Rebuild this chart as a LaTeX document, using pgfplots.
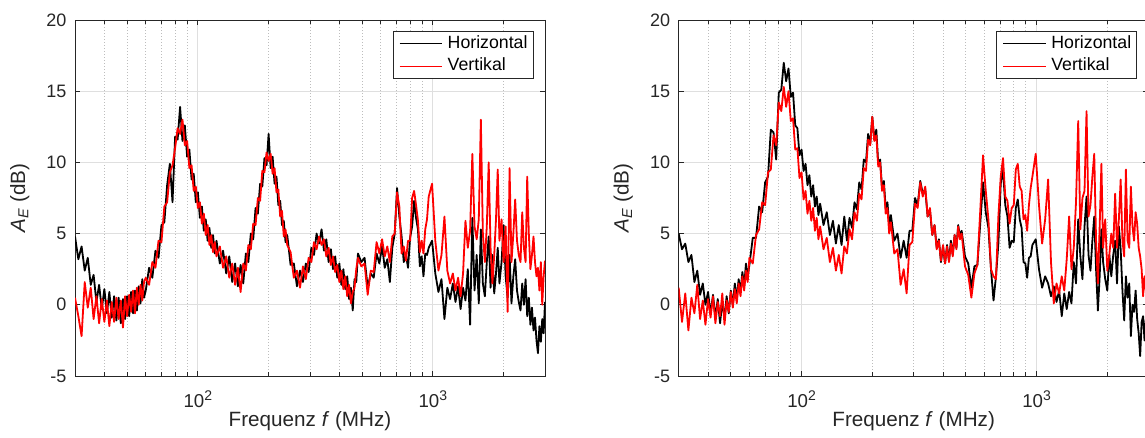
\documentclass[border=0pt]{standalone}
\usepackage{fontspec}
\setmainfont{Liberation Sans}
\usepackage{pgfplots}
\usepackage{pgfplotstable}
\pgfplotsset{compat=1.18}
\definecolor{axgray}{HTML}{262626}
\definecolor{gridmaj}{HTML}{DFDFDF}
\definecolor{gridmin}{HTML}{BDBDBD}

% f (MHz), left panel: h1 v1, right panel: h2 v2 (dB)
\pgfplotstableread{
f h1 v1 h2 v2
30 4.8 0.5 5.0 1.2
31 3.2 -0.8 3.9 -1.2
32 4.1 -2.2 4.3 0.8
33 2.4 1.6 3.0 -1.8
34 3.3 -0.2 3.5 0.5
35 1.4 1.2 1.6 -0.6
36 2.1 -1.0 2.4 1.4
37 0.2 0.6 0.7 -1.0
38 1.4 -1.3 1.5 0.3
39 -0.3 0.4 0.0 -1.4
40 1.1 -1.2 0.9 0.4
41 -0.6 0.3 -0.6 -0.9
42 0.9 -1.5 0.7 0.6
43 -0.9 0.2 -0.9 -1.3
44 0.6 -1.2 0.4 0.2
45 -1.1 0.5 -1.3 -0.8
46 0.5 -1.0 0.2 0.8
47 -1.3 0.3 -0.9 -1.4
48 0.4 -1.6 0.6 0.3
49 -1.0 0.6 -0.6 -0.5
50 0.6 -0.8 1.0 0.9
51 -0.8 0.7 0.0 -0.2
52 0.9 -0.5 1.5 1.1
53 -0.6 1.0 0.4 0.1
54 1.0 -0.6 1.8 1.5
55 -0.4 1.2 0.9 0.6
56 1.3 0.0 2.3 2.0
57 0.1 1.4 1.3 1.0
58 1.8 0.3 2.9 2.4
59 0.5 1.6 2.0 1.6
60 1.0 1.9 2.8 3.3
62 2.6 1.4 4.7 2.9
64 1.9 3.0 4.7 4.9
66 3.8 2.6 6.9 5.3
68 3.3 4.5 6.5 7.2
70 5.6 4.4 8.6 7.0
72 5.8 6.9 9.0 9.3
74 8.4 7.2 12.3 9.5
76 9.9 9.3 12.1 11.9
78 7.2 9.8 10.2 11.2
80 11.8 11.0 14.9 14.2
82 11.6 12.4 15.1 13.6
84 13.9 12.0 17.0 15.3
86 11.5 13.0 15.7 13.9
88 12.6 11.2 16.6 15.0
90 10.4 11.5 14.6 12.9
92 10.9 9.6 14.9 13.1
94 8.8 9.8 12.6 10.9
96 9.2 8.0 12.4 11.0
98 7.2 8.3 10.5 8.9
100 7.9 6.8 10.9 9.3
102 6.1 7.2 9.4 7.4
104 6.9 5.7 9.9 8.0
106 5.2 6.4 8.4 6.4
108 6.0 4.9 9.1 7.3
110 4.5 5.6 7.6 5.9
112 5.4 4.2 8.4 6.8
114 4.0 4.9 6.9 5.2
116 4.9 3.7 7.6 6.1
118 3.6 4.4 6.3 4.6
120 4.5 3.4 7.1 5.5
124 2.9 4.1 5.6 3.9
128 3.8 2.6 6.5 4.7
132 2.2 3.4 4.9 3.0
136 3.4 1.9 5.9 4.0
140 1.6 2.9 4.3 2.4
144 2.9 1.4 5.6 3.5
148 1.3 2.6 4.2 2.2
152 2.8 0.9 6.2 4.1
156 1.5 2.9 4.5 3.6
160 3.6 2.4 6.1 5.3
164 3.0 4.2 5.4 4.6
168 5.0 3.9 7.2 6.5
172 4.6 5.7 6.7 5.9
176 6.8 5.6 8.6 7.8
180 6.4 7.5 8.1 7.4
184 8.5 7.3 10.2 9.6
188 8.3 9.4 10.0 9.4
192 10.3 9.3 12.0 11.6
196 9.8 10.7 11.3 11.2
200 12.0 10.1 13.2 13.2
204 9.6 10.6 11.6 11.5
208 10.4 9.2 12.3 11.9
212 8.5 9.6 9.9 9.7
216 9.0 7.9 10.2 10.0
220 7.0 8.1 8.2 8.0
224 7.3 6.2 8.7 8.4
228 5.6 6.6 6.8 6.4
232 5.9 4.8 7.2 6.8
236 4.4 5.3 5.6 5.0
240 4.9 4.2 6.3 5.8
248 2.8 3.7 4.5 3.6
256 2.9 1.9 5.0 3.9
264 1.3 2.4 3.3 1.4
272 2.4 1.2 4.5 2.5
280 1.6 2.7 3.3 0.8
288 2.9 1.8 5.2 4.2
296 2.3 3.3 5.2 4.4
304 4.0 3.0 7.5 7.1
312 3.5 4.4 7.0 6.8
320 5.0 3.9 8.7 8.6
328 4.3 4.8 7.8 7.6
336 5.3 4.2 8.1 8.3
344 3.8 4.6 6.2 6.2
352 4.6 3.4 6.6 6.8
360 3.0 4.0 4.9 4.9
368 3.9 2.8 5.6 5.6
376 2.5 3.4 4.0 3.9
384 3.4 2.3 4.6 4.5
392 1.9 2.8 3.0 3.1
400 2.9 1.6 4.1 4.2
408 1.4 2.4 2.9 2.9
416 2.5 1.1 4.2 4.1
424 1.1 2.0 3.1 3.0
432 2.0 0.6 4.5 4.3
440 0.4 1.4 3.5 3.4
448 1.2 0.1 4.9 4.9
456 -0.4 0.9 4.0 3.9
464 1.8 1.2 5.6 5.5
472 1.6 2.5 4.8 4.6
480 3.6 3.3 5.2 5.0
496 3.0 2.7 3.4 2.7
512 3.3 2.9 2.9 2.1
528 1.2 0.7 1.2 0.5
544 2.2 2.4 2.7 2.2
560 1.9 2.3 2.8 2.8
576 3.6 4.4 5.7 6.6
592 2.9 3.6 8.6 10.5
608 4.1 4.6 6.5 8.0
624 2.6 3.4 5.4 6.0
640 3.2 4.1 2.5 2.5
656 1.6 3.0 0.3 2.0
672 4.0 4.8 2.0 1.8
688 5.0 5.0 4.3 6.2
704 8.2 7.9 8.5 9.0
720 6.2 6.9 9.5 10.3
736 4.8 3.6 7.0 7.6
752 3.0 4.1 6.2 7.3
768 3.5 3.1 4.0 5.7
784 2.6 4.5 4.5 6.8
800 4.7 4.5 4.4 7.0
816 5.5 7.5 6.8 9.5
832 7.3 8.0 7.4 9.9
848 6.1 7.0 6.0 8.3
864 5.3 5.9 5.4 8.0
880 2.7 3.7 3.0 6.0
896 3.4 4.5 2.9 6.3
912 2.0 3.6 1.9 5.2
928 3.6 5.3 3.3 7.0
944 3.5 6.0 3.4 8.2
960 4.0 7.6 4.2 9.0
992 4.5 8.5 4.6 10.6
1024 2.2 4.5 2.5 7.0
1056 0.9 2.4 1.2 4.3
1088 1.8 3.5 2.0 6.0
1120 -1.0 6.2 1.5 8.8
1152 1.2 2.4 0.6 3.0
1184 0.4 1.5 1.3 0.1
1216 1.5 2.2 0.2 1.5
1248 0.2 1.0 1.0 0.8
1280 1.3 1.9 -0.8 2.0
1312 -0.3 0.6 0.8 1.0
1344 1.2 2.2 -0.3 3.2
1376 0.3 5.9 0.9 6.2
1408 2.5 4.0 0.1 2.5
1440 -1.4 5.2 3.0 4.0
1472 6.1 10.6 1.5 7.2
1504 1.0 5.5 6.0 12.9
1536 3.5 4.6 3.4 5.3
1568 0.1 6.0 1.8 7.5
1600 5.3 13.0 5.5 8.0
1632 1.5 5.0 7.6 13.6
1664 0.6 3.0 3.5 6.2
1696 3.0 5.5 2.4 7.0
1728 4.8 10.0 4.5 9.0
1760 1.2 4.0 6.2 10.6
1792 3.5 1.5 2.5 4.5
1824 0.8 3.5 -0.4 1.5
1856 2.2 6.0 2.0 5.5
1888 4.0 9.5 5.3 9.9
1920 1.5 4.5 3.0 4.0
1960 3.0 6.0 1.8 6.0
2000 5.6 3.0 1.0 2.4
2040 2.0 5.5 3.5 3.5
2080 0.5 -0.5 2.0 5.0
2120 3.5 9.6 3.5 4.0
2160 0.1 3.0 4.5 7.8
2200 2.0 5.0 1.5 4.0
2240 3.2 7.4 5.5 6.0
2280 1.0 4.5 3.9 8.8
2320 0.2 3.5 1.0 4.5
2360 -0.4 3.0 -1.1 3.4
2400 1.5 6.5 2.0 9.5
2440 0.0 4.0 0.5 4.5
2480 1.8 3.0 1.5 4.0
2520 -0.8 9.0 -2.2 8.3
2560 0.5 5.0 0.0 5.5
2600 -1.4 2.5 -0.5 4.5
2640 -0.2 3.5 1.0 6.5
2680 -1.8 4.8 -1.0 5.7
2720 -0.9 3.0 -2.0 4.0
2760 -2.5 2.0 -3.6 3.4
2800 -3.4 2.6 -1.2 2.5
2840 -1.5 1.0 -0.8 0.6
2880 -2.6 3.0 -2.5 2.0
2920 -1.0 0.0 -1.0 1.0
2960 -2.0 2.0 -2.0 1.5
3000 0.2 3.1 -1.0 1.0
}\aedata

\pgfplotsset{
  legend image code/.code={\path (-3.75pt,0pt);
    \draw[#1, line width=0.7pt] (0pt,0pt) -- (32pt,0pt);},
}

\begin{document}
\begin{tikzpicture}
\pgfplotsset{
  every axis/.append style={
    scale only axis, width=352.5pt, height=267pt,
    xmin=30, xmax=3000, ymin=-5, ymax=20,
    xtick={100,1000},
    xticklabels={10\raisebox{5.5pt}{\fontsize{10.5}{12}\selectfont 2},
                 10\raisebox{5.5pt}{\fontsize{10.5}{12}\selectfont 3}},
    minor xtick={40,50,60,70,80,90,200,300,400,500,600,700,800,900,2000,3000},
    ytick={-5,0,5,10,15,20}, yticklabels={-5,0,5,10,15,20},
    xmajorgrids, xminorgrids, ymajorgrids,
    major grid style={gridmaj, line width=0.6pt},
    minor grid style={gridmin, line width=0.5pt, dash pattern=on 0.75pt off 1.5pt},
    axis line style={axgray, line width=0.7pt},
    tick style={axgray, line width=0.6pt},
    major tick length=4pt, minor tick length=3pt,
    tick align=inside,
    xticklabel style={text=axgray, font=\fontsize{14}{16}\selectfont,
      anchor=base, inner sep=0pt, yshift=-24pt},
    yticklabel style={text=axgray, font=\fontsize{13.5}{16}\selectfont,
      anchor=east, inner sep=0pt, xshift=-6.2pt},
    xlabel={Frequenz \textit{f} (MHz)},
    ylabel={\textit{A}\textsubscript{\textit{E}} (dB)},
    label style={text=axgray, font=\fontsize{15.5}{18}\selectfont},
    xlabel style={at={(rel axis cs:0.5,0)}, anchor=base, yshift=-38pt},
    ylabel style={at={(rel axis cs:0,0.5)}, anchor=base, yshift=37.5pt},
    legend style={
      at={(rel axis cs:1,1)}, anchor=north east, xshift=-8.6pt, yshift=-8.25pt,
      draw=axgray, line width=0.6pt, fill=white,
      inner xsep=0.45pt, inner ysep=0.9pt,
      font=\fontsize{13.3}{16}\selectfont, text=black,
      cells={anchor=west},
      nodes={inner xsep=3.75pt, inner ysep=0pt, text height=12pt, text depth=4.7pt},
      row sep=0pt, column sep=0pt},
  },
}
\begin{semilogxaxis}[at={(56.25pt,46.5pt)}, anchor=south west]
\addplot[black, line width=1.35pt, line join=round] table[x=f, y=h1] {\aedata};
\addlegendentry{Horizontal}
\addplot[red, line width=1.35pt, line join=round] table[x=f, y=v1] {\aedata};
\addlegendentry{Vertikal}
\end{semilogxaxis}
\begin{semilogxaxis}[at={(509pt,46.5pt)}, anchor=south west]
\addplot[black, line width=1.35pt, line join=round] table[x=f, y=h2] {\aedata};
\addlegendentry{Horizontal}
\addplot[red, line width=1.35pt, line join=round] table[x=f, y=v2] {\aedata};
\addlegendentry{Vertikal}
\end{semilogxaxis}
\pgfresetboundingbox
\path[use as bounding box] (0pt,0pt) rectangle (858.75pt,328.5pt);
\end{tikzpicture}
\end{document}
